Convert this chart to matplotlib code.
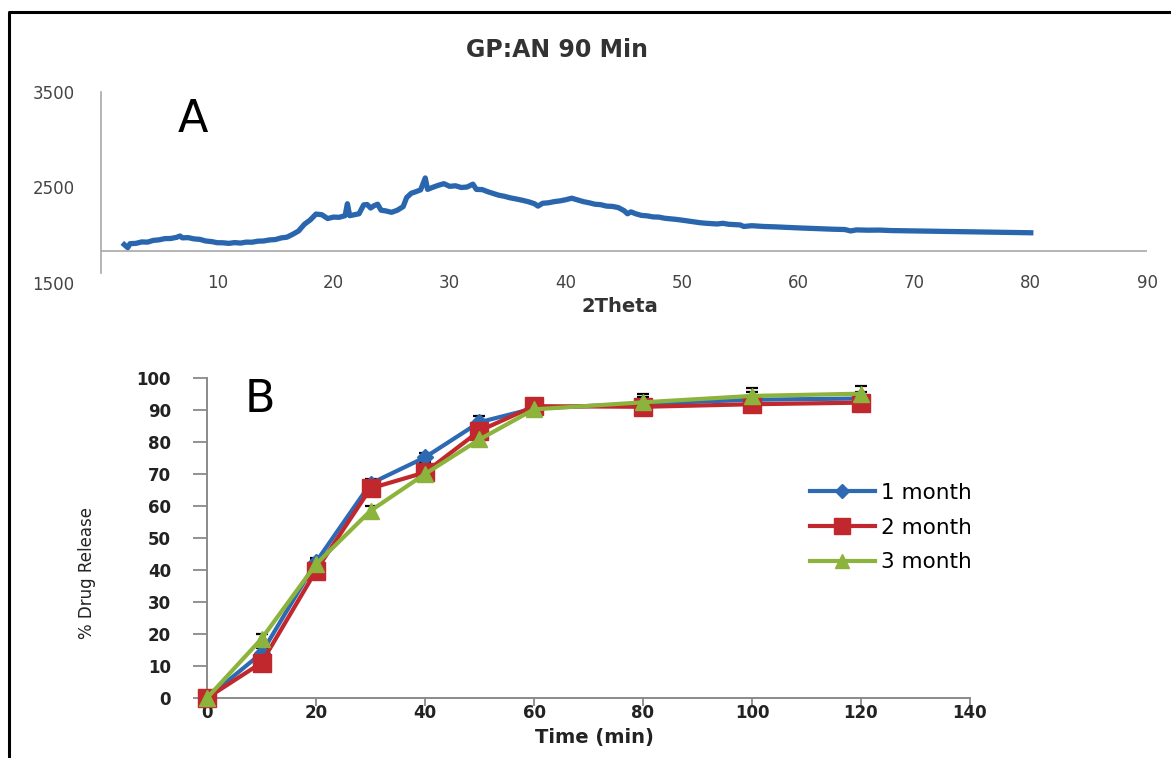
import matplotlib
matplotlib.use("Agg")
import matplotlib.pyplot as plt
from matplotlib.lines import Line2D

W, H = 1171, 758

# ---------------- data ----------------
xrd_2theta = [2.0, 2.3, 2.5, 3.0, 3.5, 4.0, 4.5, 5.0, 5.5, 6.0, 6.5, 6.8, 7.0, 7.5, 8.0, 8.5,
              9.0, 9.5, 10.0, 10.5, 11.0, 11.5, 12.0, 12.5, 13.0, 13.5, 14.0, 14.5, 15.0,
              15.5, 16.0, 16.5, 17.0, 17.5, 18.0, 18.5, 19.0, 19.5, 20.0, 20.5, 21.0, 21.2,
              21.4, 21.8, 22.2, 22.6, 22.9, 23.2, 23.5, 23.8, 24.1, 24.5, 25.0, 25.5, 26.0,
              26.3, 26.7, 27.0, 27.5, 27.9, 28.1, 28.5, 29.0, 29.5, 30.0, 30.5, 31.0, 31.5,
              32.0, 32.3, 32.8, 33.3, 33.8, 34.2, 34.7, 35.2, 35.8, 36.3, 36.8, 37.3, 37.6,
              38.0, 38.5, 39.0, 39.5, 40.0, 40.5, 41.0, 41.5, 42.0, 42.5, 43.0, 43.5, 44.0,
              44.5, 45.0, 45.3, 45.6, 46.0, 46.5, 47.0, 47.5, 48.0, 48.5, 49.0, 49.5, 50.0,
              51.0, 51.5, 52.0, 53.0, 53.5, 54.0, 55.0, 55.3, 56.0, 57.0, 58.0, 59.0, 60.0,
              61.0, 62.0, 63.0, 64.0, 64.5, 65.0, 66.0, 67.0, 68.0, 69.0, 70.0, 71.0, 72.0,
              73.0, 74.0, 75.0, 76.0, 77.0, 78.0, 79.0, 80.0]
xrd_counts = [1902, 1870, 1912, 1915, 1930, 1928, 1946, 1952, 1965, 1966, 1978, 1992, 1973, 1975,
              1962, 1957, 1940, 1934, 1922, 1921, 1915, 1923, 1918, 1928, 1927, 1938, 1940, 1951,
              1955, 1972, 1980, 2010, 2045, 2115, 2160, 2222, 2215, 2175, 2190, 2188, 2205, 2330,
              2205, 2215, 2225, 2318, 2322, 2285, 2310, 2325, 2262, 2255, 2240, 2262, 2300, 2395,
              2440, 2452, 2475, 2600, 2480, 2500, 2522, 2540, 2512, 2518, 2500, 2505, 2535, 2480,
              2478, 2455, 2436, 2420, 2408, 2392, 2378, 2365, 2350, 2330, 2305, 2335, 2340, 2352,
              2360, 2372, 2388, 2370, 2352, 2340, 2325, 2320, 2305, 2302, 2290, 2258, 2225, 2245,
              2225, 2208, 2203, 2192, 2190, 2178, 2172, 2166, 2158, 2140, 2132, 2126, 2118, 2125,
              2115, 2108, 2092, 2100, 2092, 2088, 2082, 2077, 2072, 2066, 2063, 2060, 2045, 2056,
              2053, 2054, 2049, 2047, 2046, 2042, 2041, 2040, 2036, 2035, 2033, 2031, 2029, 2027,
              2026]
xrd_xticks = [10, 20, 30, 40, 50, 60, 70, 80, 90]
xrd_yticks = [1500, 2500, 3500]
xrd_baseline = 1835

time_min = [0, 10, 20, 30, 40, 50, 60, 80, 100, 120]
release_1m = [0, 14, 42.5, 67, 75.2, 86.2, 90.5, 92, 93.2, 93.6]
release_2m = [0, 11, 39.8, 65.5, 70.5, 83.5, 91.2, 91, 91.8, 92.3]
release_3m = [0, 18.5, 41.8, 58.5, 70, 80.8, 90.2, 92.4, 94.4, 95.1]
err_1m = [0, 1.5, 1.2, 1.5, 1.5, 2.0, 1.5, 2.0, 2.5, 2.0]
err_2m = [0, 1.0, 1.5, 1.5, 1.5, 2.0, 1.5, 1.5, 1.5, 1.5]
err_3m = [0, 1.5, 1.5, 1.5, 1.5, 2.0, 1.5, 2.5, 2.5, 2.5]
series_labels = ["1 month", "2 month", "3 month"]
rel_xticks = [0, 20, 40, 60, 80, 100, 120, 140]
rel_yticks = [0, 10, 20, 30, 40, 50, 60, 70, 80, 90, 100]


def rect(l, t, r, b):
    return [l / W, 1 - b / H, (r - l) / W, (b - t) / H]


def fx(x):
    return x / W


def fy(y):
    return 1 - y / H


fig = plt.figure(figsize=(W / 100, H / 100), dpi=100)
fig.patch.set_facecolor("white")

# ---------------- Panel A ----------------
axA = fig.add_axes(rect(101, 92, 1147, 283))
axA.plot(xrd_2theta, xrd_counts, color="#2A66AE", lw=3.8, solid_joinstyle="round")
axA.axhline(xrd_baseline, color="#A8A8A8", lw=1.2, zorder=0)
axA.set_xlim(0, 90)
axA.set_ylim(1500, 3500)
for s in ["top", "right", "bottom"]:
    axA.spines[s].set_visible(False)
axA.spines["left"].set_color("#A8A8A8")
axA.spines["left"].set_linewidth(1.2)
axA.spines["left"].set_bounds(1600, 3500)
axA.set_xticks(xrd_xticks)
axA.set_xticklabels([str(v) for v in xrd_xticks])
axA.set_yticks(xrd_yticks)
axA.set_yticklabels([str(v) for v in xrd_yticks])
axA.tick_params(axis="x", length=0, pad=-6.5, labelsize=12, labelcolor="#444444")
axA.tick_params(axis="y", length=0, pad=19, labelsize=12, labelcolor="#444444")

fig.text(fx(557), fy(50), "GP:AN 90 Min", ha="center", va="center",
         fontsize=17, fontweight="bold", color="#333333")
fig.text(fx(193), fy(119), "A", ha="center", va="center", fontsize=32, color="black")
fig.text(fx(620), fy(307), "2Theta", ha="center", va="center",
         fontsize=14, fontweight="bold", color="#333333")

# ---------------- Panel B ----------------
axB = fig.add_axes(rect(207, 378, 970, 698))
styles = [
    (release_1m, err_1m, "#2E6AB4", "D", 8),
    (release_2m, err_2m, "#C0282D", "s", 12.5),
    (release_3m, err_3m, "#8CB33C", "^", 11),
]
for (vals, err, col, mk, ms), lab in zip(styles, series_labels):
    axB.errorbar(time_min, vals, yerr=err, fmt="none", ecolor="black",
                 elinewidth=1.4, capsize=4, capthick=1.6, zorder=2)
    axB.plot(time_min, vals, color=col, lw=3.0, marker=mk, markersize=ms,
             markerfacecolor=col, markeredgecolor=col, label=lab, zorder=3,
             clip_on=False)
axB.set_xlim(0, 140)
axB.set_ylim(0, 100)
axB.set_xticks(rel_xticks)
axB.set_yticks(rel_yticks)
for s in ["top", "right"]:
    axB.spines[s].set_visible(False)
for s in ["left", "bottom"]:
    axB.spines[s].set_color("#8A8A8A")
    axB.spines[s].set_linewidth(1.4)
axB.tick_params(axis="y", direction="out", length=10, width=1.3, color="#8A8A8A",
                pad=16, labelsize=12)
axB.tick_params(axis="x", direction="out", length=6, width=1.3, color="#8A8A8A",
                pad=-1.5, labelsize=12)
for t in axB.get_xticklabels() + axB.get_yticklabels():
    t.set_fontweight("bold")
    t.set_color("#222222")

leg = axB.legend(loc="upper left", bbox_to_anchor=(fx(810), fy(483)),
                 bbox_transform=fig.transFigure, frameon=False, fontsize=15.5,
                 handlelength=3.0, handletextpad=0.3, labelspacing=0.68,
                 borderpad=0, borderaxespad=0, markerscale=0.9)

fig.text(fx(594), fy(738), "Time (min)", ha="center", va="center",
         fontsize=14, fontweight="bold", color="#222222")
fig.text(fx(87), fy(573), "% Drug Release", ha="center", va="center", rotation=90,
         fontsize=12, color="#222222",
         family=["Liberation Sans Narrow", "DejaVu Sans"])
fig.text(fx(260), fy(399), "B", ha="center", va="center", fontsize=32, color="black")

# outer border (left and top only)
fig.add_artist(Line2D([fx(9), fx(9), 1.0], [0.0, fy(12), fy(12)],
                      transform=fig.transFigure, color="black", lw=2.2))

fig.savefig("out.png", dpi=100, facecolor="white")
